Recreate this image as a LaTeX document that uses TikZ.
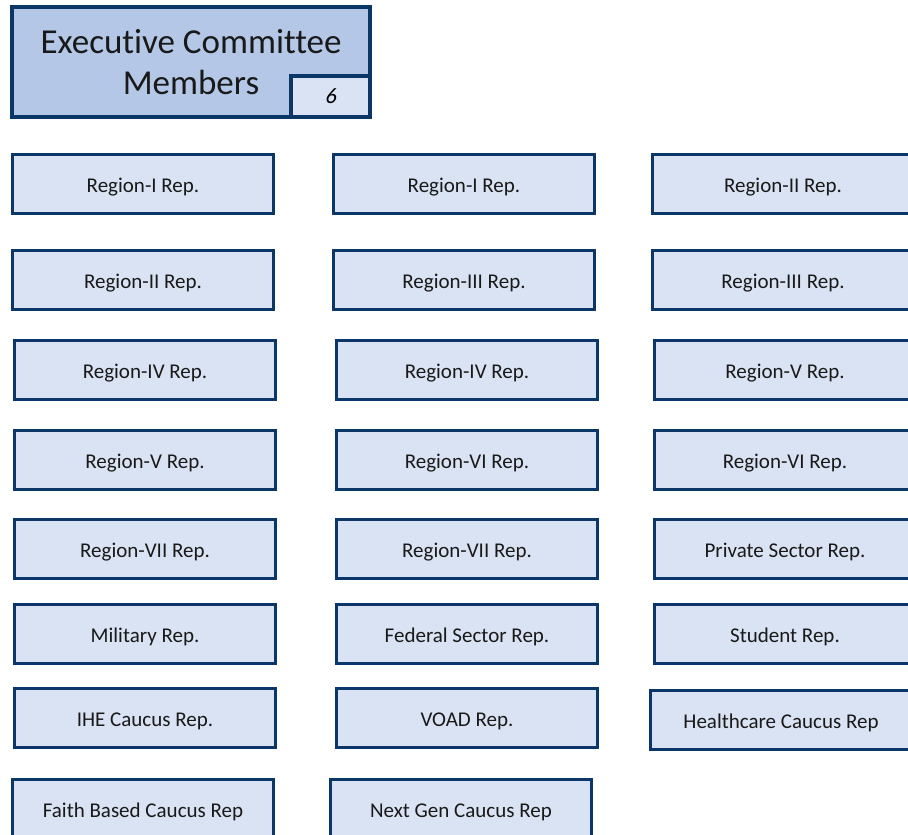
\documentclass[tikz,border=0pt]{standalone}
\usepackage{fontspec}
\setmainfont[Ligatures=NoCommon]{Carlito}
\newfontfamily\countfont[FakeSlant=0.2,Ligatures=NoCommon]{Carlito}
\usepackage{xcolor}
\definecolor{navyline}{HTML}{0B3768}
\definecolor{headfill}{HTML}{B4C7E7}
\definecolor{repfill}{HTML}{DAE3F3}
\tikzset{
  exechead/.style={ % big title box at the top left
    draw=navyline, line width=4pt, fill=headfill,
    rectangle, minimum width=358pt, minimum height=110pt,
    inner sep=0pt, align=center, text=black!90,
    font=\fontsize{35}{41}\selectfont
  },
  countbox/.style={ % small box with the number of members
    draw=navyline, line width=4pt, fill=repfill,
    rectangle, minimum width=79pt, minimum height=41pt,
    inner sep=0pt, text=black,
    font=\countfont\fontsize{22}{26}\selectfont
  },
  member/.style={ % one representative
    draw=navyline, line width=3pt, fill=repfill,
    rectangle, minimum width=261pt, minimum height=59pt,
    inner sep=0pt, text=black!90, text height=16pt, text depth=0pt,
    font=\fontsize{21}{25}\selectfont
  }
}
\begin{document}
\begin{tikzpicture}[x=1pt, y=-1pt]
  \useasboundingbox (0,0) rectangle (908,835);
  \clip (0,0) rectangle (908,835);

  \node[exechead] (head) at (191,62) {Executive Committee\\Members};
  \node[countbox, anchor=south east] (count) at (head.south east) {6};

  % first column
  \node[member] (regOneA)   at (143,184) {Region-I Rep.};
  \node[member] (regTwoA)   at (143,280) {Region-II Rep.};
  \node[member] (regFourA)  at (145,370) {Region-IV Rep.};
  \node[member] (regFiveA)  at (145,460) {Region-V Rep.};
  \node[member] (regSevenA) at (145,549) {Region-VII Rep.};
  \node[member] (military)  at (145,634) {Military Rep.};
  \node[member] (ihe)       at (145,718) {IHE Caucus Rep.};
  \node[member] (faith)     at (143,809) {Faith Based Caucus Rep};

  % second column
  \node[member] (regOneB)   at (464,184) {Region-I Rep.};
  \node[member] (regThreeA) at (464,280) {Region-III Rep.};
  \node[member] (regFourB)  at (467,370) {Region-IV Rep.};
  \node[member] (regSixA)   at (467,460) {Region-VI Rep.};
  \node[member] (regSevenB) at (467,549) {Region-VII Rep.};
  \node[member] (federal)   at (467,634) {Federal Sector Rep.};
  \node[member] (voad)      at (467,718) {VOAD Rep.};
  \node[member] (nextgen)   at (461,809) {Next Gen Caucus Rep};

  % third column, cut at the right edge
  \node[member] (regTwoB)   at (783,184) {Region-II Rep.};
  \node[member] (regThreeB) at (783,280) {Region-III Rep.};
  \node[member] (regFiveB)  at (785,370) {Region-V Rep.};
  \node[member] (regSixB)   at (785,460) {Region-VI Rep.};
  \node[member] (private)   at (785,549) {Private Sector Rep.};
  \node[member] (student)   at (785,634) {Student Rep.};
  \node[member] (health)    at (781,720) {Healthcare Caucus Rep};
\end{tikzpicture}
\end{document}
